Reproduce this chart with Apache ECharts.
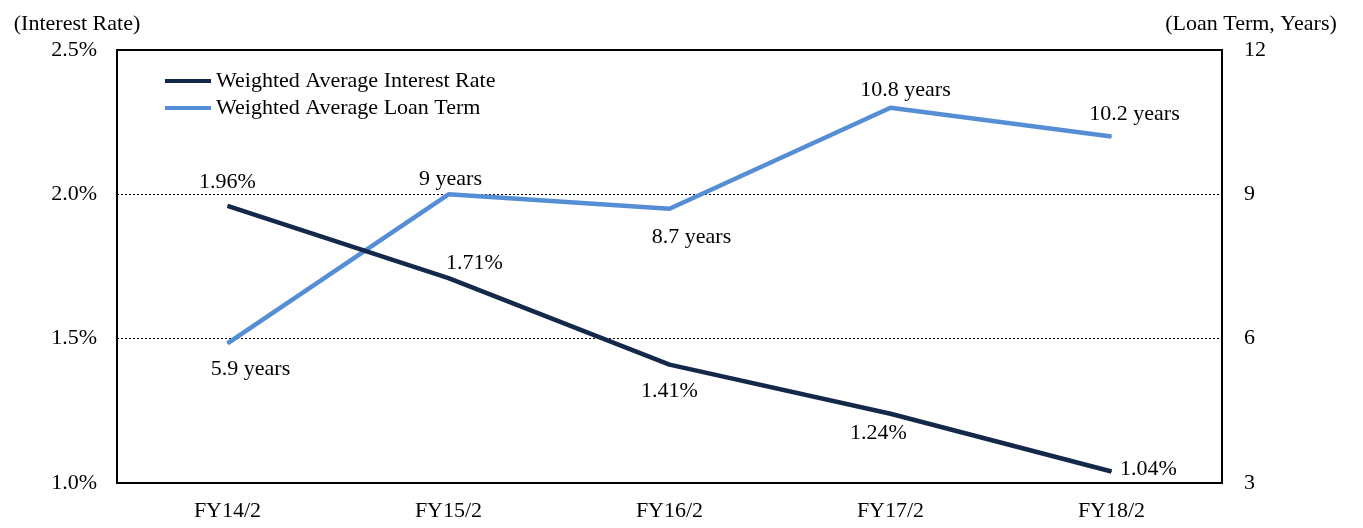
<!DOCTYPE html>
<html>
<head>
<meta charset="utf-8">
<script src="https://cdn.jsdelivr.net/npm/echarts@6/dist/echarts.min.js"></script>
<style>
  html, body { margin: 0; padding: 0; background: #fff; }
  #chart { width: 1363px; height: 528px; }
</style>
</head>
<body>
<div id="chart"></div>
<script>
var categories = ['FY14/2', 'FY15/2', 'FY16/2', 'FY17/2', 'FY18/2'];
var interestRate = [1.96, 1.71, 1.41, 1.24, 1.04];
var loanTerm = [5.9, 9, 8.7, 10.8, 10.2];

// label placement per point
var rateLabelPos = [
  { position: 'top', distance: 12, offset: [0, 0] },
  { position: 'top', distance: 3, offset: [26, 0] },
  { position: 'bottom', distance: 15, offset: [0, 0] },
  { position: 'bottom', distance: 8, offset: [-12, 0] },
  { position: 'right', distance: 8, offset: [0, -2] }
];
var termLabelPos = [
  { position: 'bottom', distance: 14, offset: [23, 0] },
  { position: 'top', distance: 4, offset: [2, 0] },
  { position: 'bottom', distance: 17, offset: [22, 0] },
  { position: 'top', distance: 6, offset: [15, 0] },
  { position: 'top', distance: 11, offset: [23, 0] }
];

var font = 'Liberation Serif, Times New Roman, serif';
var fs = 22;

function withLabels(values, pos, fmt) {
  return values.map(function (v, i) {
    return {
      value: v,
      label: {
        show: true,
        position: pos[i].position,
        distance: pos[i].distance,
        offset: pos[i].offset,
        fontFamily: font, fontSize: fs, color: '#000',
        formatter: fmt(v)
      }
    };
  });
}

var myChart = echarts.init(document.getElementById('chart'));
var option = {
  backgroundColor: '#fff',
  textStyle: { fontFamily: font },
  grid: {
    left: 117, right: 141, top: 50, bottom: 45,
    show: true, borderColor: '#000', borderWidth: 2, backgroundColor: 'transparent'
  },
  legend: {
    orient: 'vertical',
    left: 160, top: 65,
    itemWidth: 46, itemHeight: 4, itemGap: 5,
    icon: 'rect',
    textStyle: { fontFamily: font, fontSize: 22, color: '#000' },
    data: ['Weighted Average Interest Rate', 'Weighted Average Loan Term']
  },
  xAxis: {
    type: 'category',
    data: categories,
    boundaryGap: true,
    axisLine: { show: false },
    axisTick: { show: false },
    axisLabel: { fontFamily: font, fontSize: fs, color: '#000', margin: 17 }
  },
  yAxis: [
    {
      type: 'value', min: 1.0, max: 2.5, interval: 0.5,
      name: '(Interest Rate)',
      nameLocation: 'end', nameGap: 15,
      nameTextStyle: { fontFamily: font, fontSize: fs, color: '#000', align: 'center', padding: [0, 0, 0, -80] },
      axisLine: { show: false },
      axisTick: { show: false },
      axisLabel: {
        fontFamily: font, fontSize: fs, color: '#000', margin: 20,
        formatter: function (v) { return v.toFixed(1) + '%'; }
      },
      splitLine: { show: true, lineStyle: { type: [2, 2], color: '#000', width: 1 } }
    },
    {
      type: 'value', min: 3, max: 12, interval: 3,
      name: '(Loan Term, Years)',
      nameLocation: 'end', nameGap: 15,
      nameTextStyle: { fontFamily: font, fontSize: fs, color: '#000', align: 'center', padding: [0, 0, 0, 58] },
      axisLine: { show: false },
      axisTick: { show: false },
      axisLabel: { fontFamily: font, fontSize: fs, color: '#000', margin: 22 },
      splitLine: { show: false }
    }
  ],
  series: [
    {
      name: 'Weighted Average Interest Rate',
      type: 'line',
      yAxisIndex: 0,
      data: withLabels(interestRate, rateLabelPos, function (v) { return v.toFixed(2) + '%'; }),
      symbol: 'circle',
      symbolSize: 1,
      showSymbol: true,
      color: '#14284a',
      lineStyle: { width: 4.5, color: '#14284a' },
      label: { show: true },
      z: 3
    },
    {
      name: 'Weighted Average Loan Term',
      type: 'line',
      yAxisIndex: 1,
      data: withLabels(loanTerm, termLabelPos, function (v) { return v + ' years'; }),
      symbol: 'circle',
      symbolSize: 1,
      showSymbol: true,
      color: '#558ed5',
      lineStyle: { width: 4.5, color: '#558ed5' },
      label: { show: true },
      z: 2
    }
  ]
};
myChart.setOption(option);
</script>
</body>
</html>
